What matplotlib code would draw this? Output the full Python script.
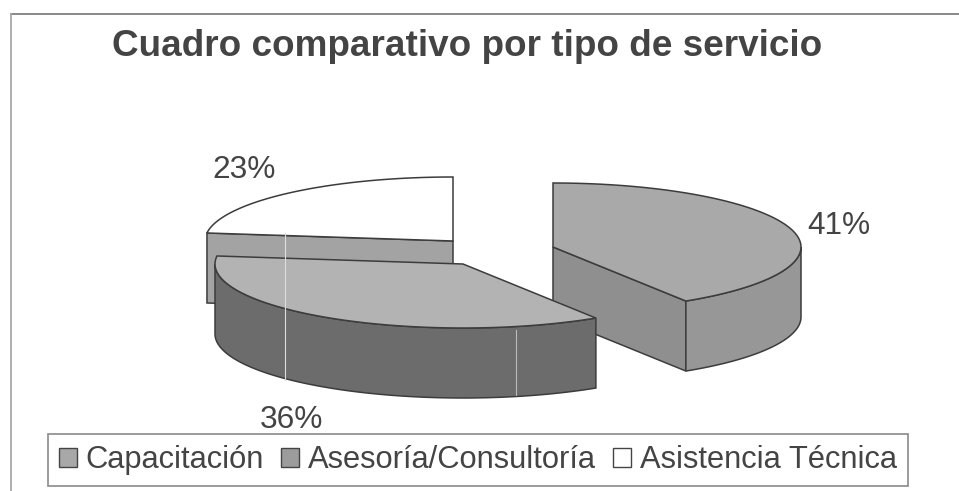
"""Cuadro comparativo por tipo de servicio: scanned 3D exploded pie."""
import numpy as np
import matplotlib
matplotlib.use('Agg')
import matplotlib.pyplot as plt
from matplotlib.patches import Patch, Polygon

categories = ['Capacitación', 'Asesoría/Consultoría', 'Asistencia Técnica']
shares = [41, 36, 23]
pct_labels = ['41%', '36%', '23%']

# layout of the exploded slices, in pixels
centers = [(553, 247), (463, 264), (453, 241)]
label_pos = [(839, 226), (291, 420), (244, 170)]
rx, ry, depth = 248, 64, 70

top_colors = ['#a9a9a9', '#b3b3b3', '#ffffff']
rim_colors = ['#979797', '#6c6c6c', '#a3a3a3']
cut_colors = ['#8f8f8f', '#6c6c6c', '#a3a3a3']
legend_colors = ['#a8a8a8', '#9c9c9c', '#ffffff']
edge = '#3c3c3c'
text_color = '#444444'

plt.rcParams['font.family'] = ['Liberation Sans', 'DejaVu Sans']

fig = plt.figure(figsize=(9.59, 4.91), dpi=100)
ax = fig.add_axes([0, 0, 1, 1])
ax.set_xlim(0, 959)
ax.set_ylim(491, 0)
ax.axis('off')


def rim_point(center, deg):
    # deg runs clockwise from twelve o'clock
    t = np.radians(deg)
    return center[0] + rx * np.sin(t), center[1] - ry * np.cos(t)


def arc(center, a, b):
    t = np.radians(np.linspace(a, b, 80))
    return np.column_stack([center[0] + rx * np.sin(t), center[1] - ry * np.cos(t)])


def draw_cut(center, deg, color, z):
    x, y = rim_point(center, deg)
    pts = [center, (x, y), (x, y + depth), (center[0], center[1] + depth)]
    ax.add_patch(Polygon(pts, closed=True, fc=color, ec=edge, lw=1.1, zorder=z))


edges = np.cumsum([0] + shares) * 3.6
# back slice first, front slice last
for z, i in enumerate([2, 0, 1]):
    a, b = edges[i], edges[i + 1]
    c = centers[i]
    if np.sin(np.radians(a)) < -1e-6:
        draw_cut(c, a, cut_colors[i], z * 10)
    if np.sin(np.radians(b)) > 1e-6:
        draw_cut(c, b, cut_colors[i], z * 10)
    # outer wall, only the part facing the viewer
    lo, hi = max(a, 90), min(b, 270)
    if lo < hi:
        upper = arc(c, lo, hi)
        lower = upper[::-1] + [0, depth]
        ax.add_patch(Polygon(np.vstack([upper, lower]), closed=True,
                             fc=rim_colors[i], ec=edge, lw=1.1, zorder=z * 10 + 1))
    top = np.vstack([[c], arc(c, a, b)])
    ax.add_patch(Polygon(top, closed=True, fc=top_colors[i], ec=edge, lw=1.1,
                         zorder=z * 10 + 2))
    ax.text(label_pos[i][0], label_pos[i][1], pct_labels[i], fontsize=22.8,
            color=text_color, ha='center', va='center', zorder=50)

# chart frame, open on the right and bottom of the scan
ax.plot([959, 11], [14, 14], color='#808080', lw=1.3, zorder=1)
ax.plot([11, 11], [14, 491], color='#a8a8a8', lw=1.3, zorder=1)

# scanner streaks over the pie
ax.plot([285, 285], [233, 380], color='#dddddd', lw=0.8, zorder=40)
ax.plot([516, 516], [330, 395], color='#bbbbbb', lw=0.8, zorder=40)

ax.text(467, 46, 'Cuadro comparativo por tipo de servicio', fontsize=26.6,
        fontweight='bold', color=text_color, ha='center', va='center')

handles = [Patch(fc=col, ec='#444444', lw=1.0) for col in legend_colors]
leg = ax.legend(handles, categories, ncol=3, loc='center',
                bbox_to_anchor=(478, 460), bbox_transform=ax.transData,
                fontsize=22.2, frameon=True, fancybox=False, framealpha=1,
                edgecolor='#8a8a8a', labelcolor=text_color,
                handlelength=0.58, handleheight=0.58, handletextpad=0.3,
                columnspacing=0.55, borderpad=0.36, borderaxespad=0)
leg.get_frame().set_linewidth(1.2)
leg.set_zorder(60)

fig.savefig('out.png', dpi=100, facecolor='white')
